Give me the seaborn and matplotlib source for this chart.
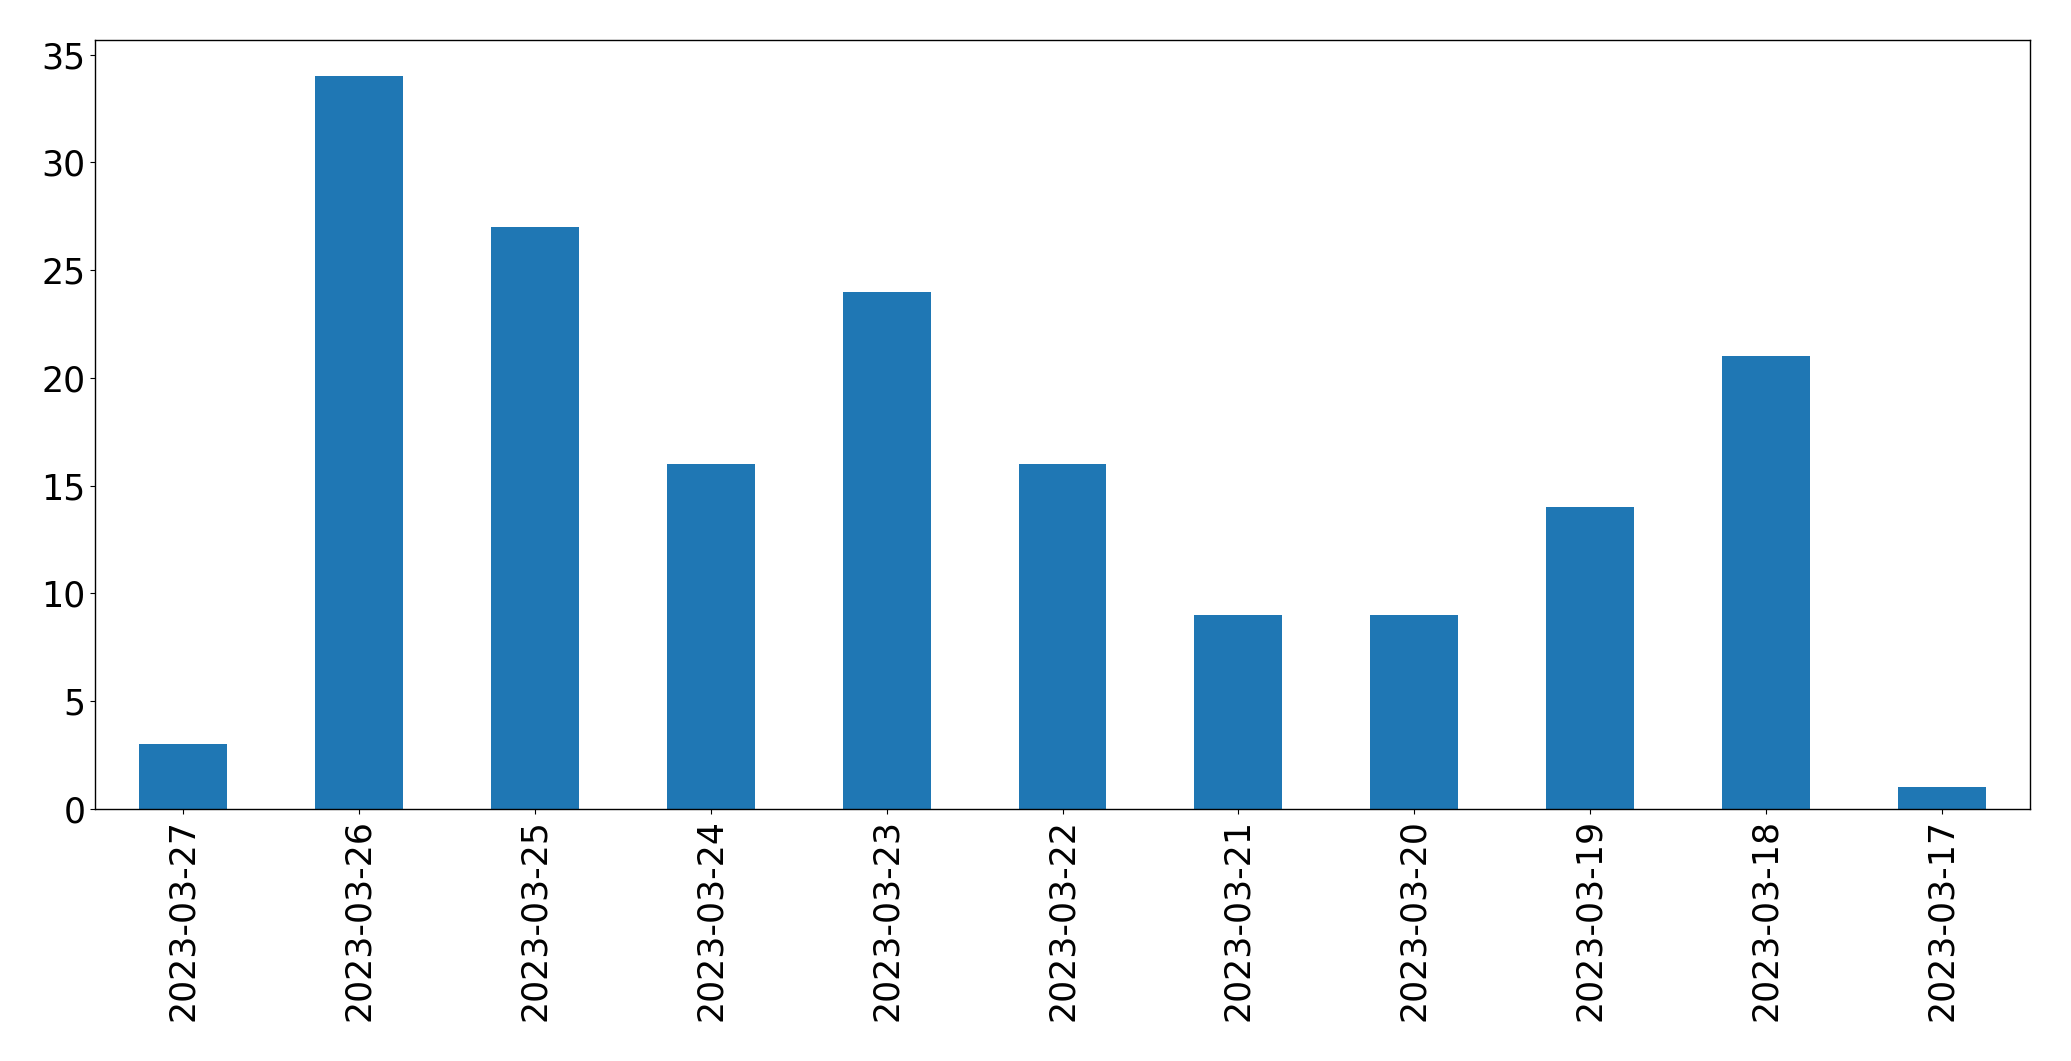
import matplotlib
matplotlib.use("Agg")
import matplotlib.pyplot as plt
import seaborn as sns
import pandas as pd

dates = ["2023-03-27", "2023-03-26", "2023-03-25", "2023-03-24", "2023-03-23",
         "2023-03-22", "2023-03-21", "2023-03-20", "2023-03-19", "2023-03-18",
         "2023-03-17"]
counts = [3, 34, 27, 16, 24, 16, 9, 9, 14, 21, 1]

df = pd.DataFrame({"date": dates, "count": counts})

fig = plt.figure(figsize=(20.71, 10.61), dpi=100)
ax = fig.add_axes([95 / 2071, 1 - 809 / 1061, (2030 - 95) / 2071, (809 - 39.5) / 1061])
sns.barplot(data=df, x="date", y="count", order=dates, color="#1f77b4",
            saturation=1, width=0.5, ax=ax)
ax.set_xlim(-0.5, len(dates) - 0.5)
ax.set_ylim(0, max(counts) * 1.05)
ax.set_xlabel("")
ax.set_ylabel("")
ax.tick_params(axis="both", labelsize=25)
ax.tick_params(axis="x", labelrotation=90)
for s in ax.spines.values():
    s.set_visible(True)
    s.set_linewidth(1.0)
fig.savefig("out.png", dpi=100)
